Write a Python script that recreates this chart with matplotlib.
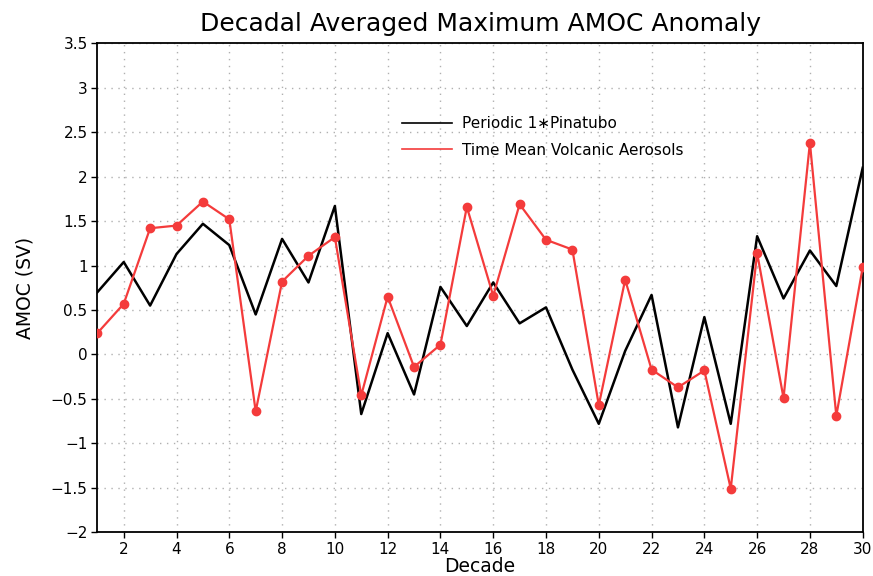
import numpy as np
import matplotlib
matplotlib.use("Agg")
import matplotlib.pyplot as plt
from matplotlib.lines import Line2D

decade = np.arange(1, 31)

# Periodic 1*Pinatubo
pinatubo = [0.70, 1.04, 0.55, 1.13, 1.47, 1.23, 0.45, 1.30, 0.81, 1.67,
            -0.67, 0.24, -0.45, 0.76, 0.32, 0.81, 0.35, 0.53, -0.17, -0.78,
            0.04, 0.67, -0.82, 0.42, -0.78, 1.33, 0.63, 1.17, 0.77, 2.10]

# Time Mean Volcanic Aerosols
timemean = [0.24, 0.57, 1.42, 1.45, 1.72, 1.52, -0.64, 0.82, 1.11, 1.32,
            -0.46, 0.65, -0.14, 0.11, 1.66, 0.66, 1.69, 1.29, 1.18, -0.57,
            0.84, -0.17, -0.37, -0.18, -1.51, 1.14, -0.49, 2.38, -0.69, 0.98]

yticks = np.arange(-2, 3.51, 0.5)
ylabels = ['\u22122', '\u22121.5', '\u22121', '\u22120.5', '0', '0.5', '1', '1.5',
           '2', '2.5', '3', '3.5']
xticks = np.arange(2, 31, 2)

red = '#f43b3b'

fig = plt.figure(figsize=(8.73, 5.76), dpi=100)
ax = fig.add_axes([0.1115, 0.0759, 0.8767, 0.8489])

ax.plot(decade, pinatubo, color='black', lw=1.8, zorder=3)
ax.plot(decade, timemean, color=red, lw=1.6, marker='o', ms=6, zorder=4)

ax.set_xlim(1, 30)
ax.set_ylim(-2, 3.5)
ax.set_yticks(yticks)
ax.set_yticklabels(ylabels)
ax.set_xticks(xticks)
ax.grid(True, color='#b0b0b0', linestyle=(0, (1, 4)), lw=1.0)
ax.tick_params(direction='out', length=4, width=1, labelsize=11, pad=3)
for s in ax.spines.values():
    s.set_linewidth(1.3)

ax.set_title('Decadal Averaged Maximum AMOC Anomaly', fontsize=18, pad=9)
ax.set_xlabel('Decade', fontsize=13.5, va='center')
ax.xaxis.set_label_coords(0.5, -0.071)
ax.set_ylabel('AMOC (SV)', fontsize=13.5, va='center')
ax.yaxis.set_label_coords(-0.094, 0.5)

handles = [Line2D([], [], color='black', lw=1.2),
           Line2D([], [], color=red, lw=1.2)]
ax.legend(handles, ['Periodic 1\u2217Pinatubo', 'Time Mean Volcanic Aerosols'],
          loc='upper left', bbox_to_anchor=(0.398, 0.851), frameon=False,
          borderaxespad=0, borderpad=0,
          fontsize=11, handlelength=3.3, labelspacing=0.75, handletextpad=0.6)

fig.savefig('out.png', dpi=100)
